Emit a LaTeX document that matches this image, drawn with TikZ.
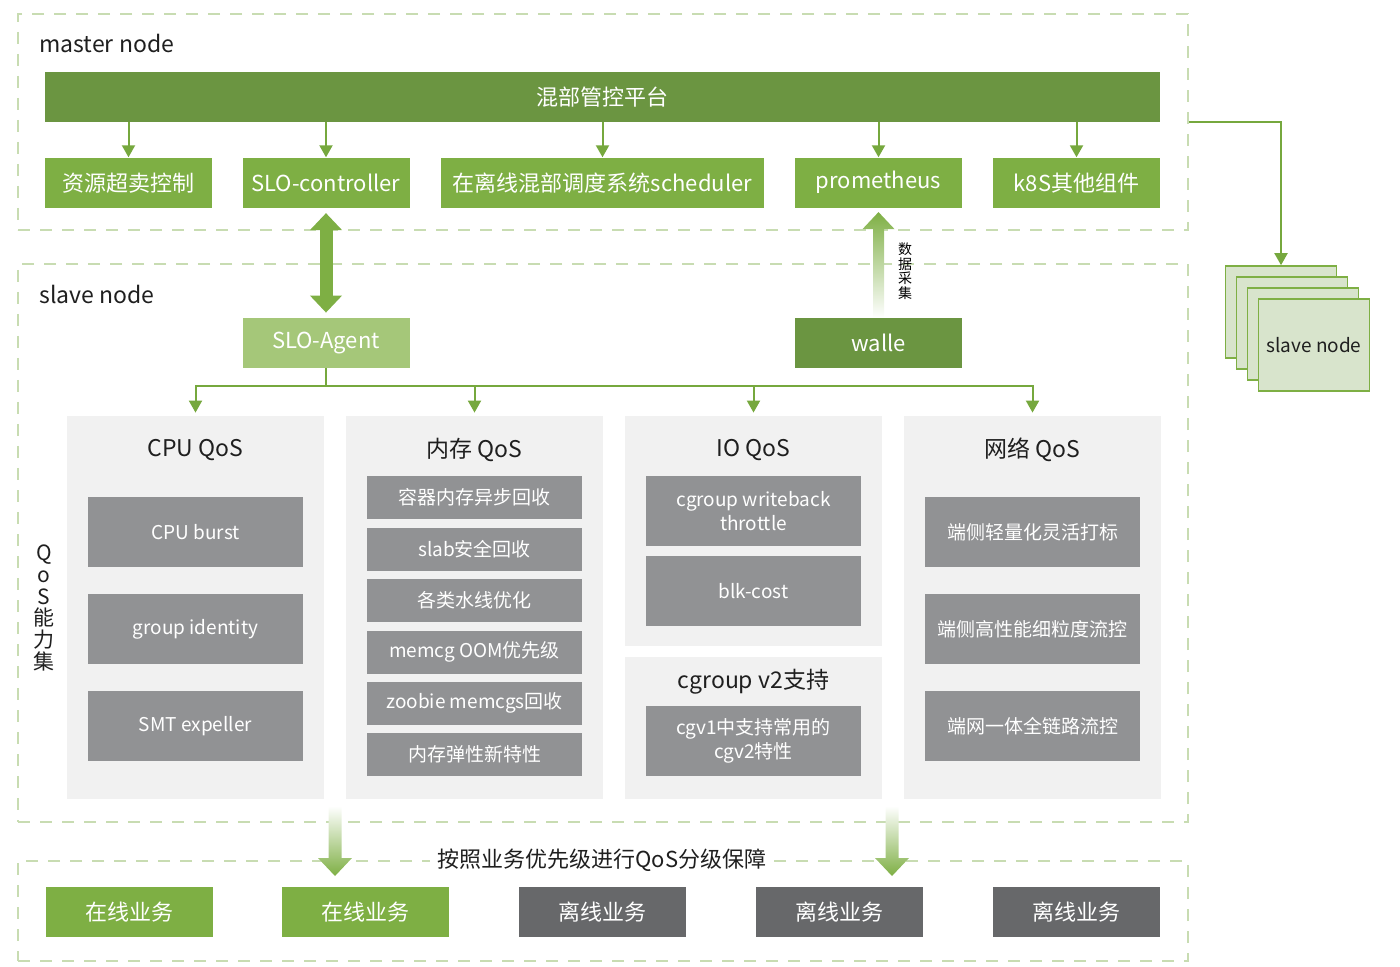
\documentclass[tikz,border=0pt]{standalone}
\usepackage{fontspec}
\setmainfont{Noto Sans CJK SC}
\usetikzlibrary{arrows.meta,calc}
\definecolor{mastergreen}{RGB}{107,149,65}
\definecolor{boxgreen}{RGB}{126,175,68}
\definecolor{agentgreen}{RGB}{165,199,121}
\definecolor{linegreen}{RGB}{118,168,62}
\definecolor{dashgreen}{RGB}{200,220,178}
\definecolor{stackfill}{RGB}{216,228,204}
\definecolor{panelgray}{RGB}{241,241,241}
\definecolor{itemgray}{RGB}{145,146,148}
\definecolor{offgray}{RGB}{103,104,106}

\begin{document}
\begin{tikzpicture}[x=0.5pt,y=-0.5pt,>={Triangle[width=6.5pt,length=6pt]},
  sz/.style 2 args={minimum width=#1*0.5pt,minimum height=#2*0.5pt},
  box/.style={inner sep=0pt,text=white,font=\fontsize{11pt}{13pt}\selectfont,sz={167}{50}},
  item/.style={inner sep=0pt,text=white,fill=itemgray,align=center,font=\fontsize{9.5pt}{12pt}\selectfont},
  panel/.style={inner sep=0pt,fill=panelgray},
  region/.style={draw=dashgreen,line width=0.8pt,dash pattern=on 6pt off 5pt,inner sep=0pt},
  link/.style={draw=linegreen,line width=1pt,->},
  title/.style={text=black!88,font=\fontsize{11.5pt}{13pt}\selectfont}]

\useasboundingbox (0,0) rectangle (1400,967);

% regions
\node[region,sz={1170}{216}] (master) at (603,122) {};
\node[region,sz={1170}{558}] (slave) at (603,543) {};
\node[region,sz={1170}{100}] (biz) at (603,911) {};
\node[title,anchor=base west,inner sep=0pt] (mlabel) at (39,53) {master node};
\node[title,anchor=base west,inner sep=0pt] (slabel) at (39,304) {slave node};

% master node
\node[box,fill=mastergreen,sz={1115}{50}] (hub) at (602.5,96.7) {混部管控平台};
\node[box,fill=boxgreen] (oversell) at (128.5,182.7) {资源超卖控制};
\node[box,fill=boxgreen] (sloctl) at (326,182.7) {SLO-controller};
\node[box,fill=boxgreen,sz={323}{50}] (sched) at (602.5,182.7) {在离线混部调度系统scheduler};
\node[box,fill=boxgreen] (prom) at (878.5,182.7) {prometheus};
\node[box,fill=boxgreen] (k8s) at (1076.5,182.7) {k8S其他组件};
\foreach \n in {oversell,sloctl,sched,prom,k8s}
  {\draw[link] (hub.south -| \n.north) -- (\n.north);}

% slave node
\node[box,fill=agentgreen] (agent) at (326,343) {SLO-Agent};
\node[box,fill=mastergreen] (walle) at (878.5,343) {walle};
\draw[boxgreen,line width=6.5pt,{Triangle[width=15.5pt,length=8.5pt]}-{Triangle[width=15.5pt,length=8.5pt]},
  shorten <=2.5pt,shorten >=2.5pt] (sloctl) -- (agent);
\shade[top color=boxgreen,bottom color=white]
  ([xshift=-2.75pt]walle.north) -- ([xshift=-2.75pt,yshift=-10.5pt]prom.south)
  -- ([xshift=-8pt,yshift=-10.5pt]prom.south) -- ([yshift=-2pt]prom.south)
  -- ([xshift=8pt,yshift=-10.5pt]prom.south) -- ([xshift=2.75pt,yshift=-10.5pt]prom.south)
  -- ([xshift=2.75pt]walle.north) -- cycle;
\node[align=center,font=\fontsize{7pt}{7.3pt}\selectfont] (collect) at (905,271) {数\\据\\采\\集};

% QoS panels
\node[panel,sz={257}{383}] (cpu) at (195.5,607.5) {};
\node[panel,sz={257}{383}] (mem) at (474.5,607.5) {};
\node[panel,sz={257}{230}] (io) at (753.5,531) {};
\node[panel,sz={257}{142}] (cgv) at (753.5,728) {};
\node[panel,sz={257}{383}] (net) at (1032.5,607.5) {};
\coordinate (fork) at (326,386);
\draw[linegreen,line width=1pt] (agent.south) -- (fork);
\foreach \p in {cpu,mem,io,net}
  {\draw[link,shorten >=1.5pt] (fork) -| (\p.north);}

\node[title] (cputitle) at (195.5,450) {CPU QoS};
\node[title] (memtitle) at (474.5,450) {内存 QoS};
\node[title] (iotitle) at (753.5,450) {IO QoS};
\node[title] (nettitle) at (1032.5,450) {网络 QoS};
\node[title] (cgvtitle) at (753.5,682) {cgroup v2支持};

\foreach \y/\t [count=\i] in {532/CPU burst,629/group identity,726/SMT expeller}
  {\node[item,sz={215}{70}] (cpu\i) at (195.5,\y) {\t};}
\foreach \y/\t [count=\i] in {497.5/容器内存异步回收,549/slab安全回收,600.5/各类水线优化,
    652/memcg OOM优先级,703/zoobie memcgs回收,754/内存弹性新特性}
  {\node[item,sz={215}{43}] (mem\i) at (474.5,\y) {\t};}
\node[item,sz={215}{70}] (io1) at (753.5,511) {cgroup writeback\\throttle};
\node[item,sz={215}{70}] (io2) at (753.5,591) {blk-cost};
\node[item,sz={215}{70}] (cgv1) at (753.5,741) {cgv1中支持常用的\\cgv2特性};
\foreach \y/\t [count=\i] in {532/端侧轻量化灵活打标,629/端侧高性能细粒度流控,726/端网一体全链路流控}
  {\node[item,sz={215}{70}] (net\i) at (1032.5,\y) {\t};}

\node[align=center,text=black!88,font=\fontsize{10.5pt}{10.9pt}\selectfont] (qoslabel) at (44,608) {Q\\o\\S\\能\\力\\集};

% slave node stack
\foreach \i in {0,...,3}
  {\node[draw=boxgreen,fill=stackfill,line width=0.8pt,sz={111}{92}] (stack\i) at (1281+11*\i,312+11*\i) {};}
\node[text=black!88,font=\fontsize{9.5pt}{11pt}\selectfont] (stacklabel) at (stack3) {slave node};
\draw[link] (master.east) -| (stack0.north);

% business row
\foreach \x in {335,892}
  {\shade[top color=white,bottom color=boxgreen] (\x-6.5,806) -- (\x-6.5,858) -- (\x-17,858)
     -- (\x,876) -- (\x+17,858) -- (\x+6.5,858) -- (\x+6.5,806) -- cycle;}
\node[title,fill=white,inner xsep=4pt,font=\fontsize{11pt}{13pt}\selectfont] (rule) at (602,860) {按照业务优先级进行QoS分级保障};
\node[box,fill=boxgreen] (on1) at (129,911.7) {在线业务};
\node[box,fill=boxgreen] (on2) at (365,911.7) {在线业务};
\node[box,fill=offgray] (off1) at (602.5,911.7) {离线业务};
\node[box,fill=offgray] (off2) at (839.5,911.7) {离线业务};
\node[box,fill=offgray] (off3) at (1076.5,911.7) {离线业务};
\end{tikzpicture}
\end{document}
